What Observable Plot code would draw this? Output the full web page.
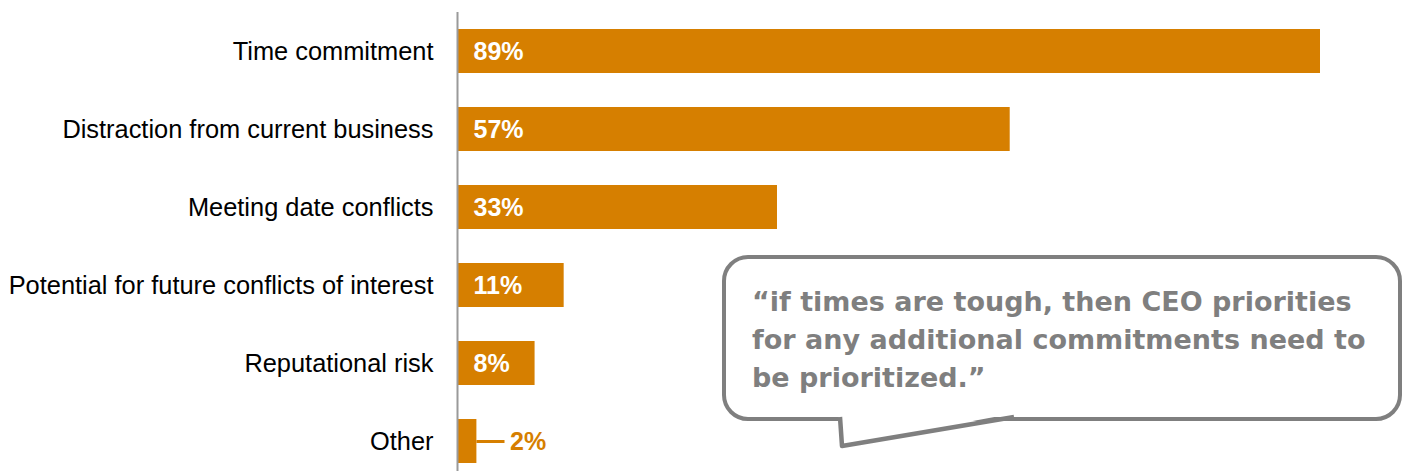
<!DOCTYPE html>
<html>
<head>
<meta charset="utf-8">
<script src="https://cdn.jsdelivr.net/npm/d3@7"></script>
<script src="https://cdn.jsdelivr.net/npm/@observablehq/plot@0.6"></script>
<style>
  html, body { margin: 0; padding: 0; background: #fff; }
  #wrap { position: relative; width: 1405px; height: 471px; overflow: hidden; }
  #chart { position: absolute; left: 0; top: 0; }
  #callout {
    position: absolute; left: 722px; top: 255px; width: 680px; height: 166px;
    box-sizing: border-box; border: 4.5px solid #7f7f7f; border-radius: 26px; background: #fff;
    padding: 24px 0 0 26px; white-space: nowrap;
    font-family: "DejaVu Sans", sans-serif; font-weight: 700; font-size: 27px; line-height: 38px;
    color: #7f7f7f;
  }
  #tail { position: absolute; left: 0; top: 0; }
</style>
</head>
<body>
<div id="wrap">
  <div id="chart"></div>
  <div id="callout">“if times are tough, then CEO priorities<br>for any additional commitments need to<br>be prioritized.”</div>
  <svg id="tail" width="1405" height="471">
    <polygon points="838,413 1016,413 843,445" fill="#fff"></polygon>
    <polyline points="840,417 842,446 1014,417" fill="none" stroke="#7f7f7f" stroke-width="4.5" stroke-linejoin="round"></polyline>
  </svg>
</div>
<script>
const categories = [
  "Time commitment",
  "Distraction from current business",
  "Meeting date conflicts",
  "Potential for future conflicts of interest",
  "Reputational risk",
  "Other"
];
const values = [89, 57, 33, 11, 8, 2];
const valueLabels = ["89%", "57%", "33%", "11%", "8%", "2%"];

const barColor = "#d67f00";
const data = categories.map((c, i) => ({category: c, value: values[i], label: valueLabels[i]}));
const inside = data.filter(d => d.value >= 5);
const outside = data.filter(d => d.value < 5);
const leader = 2.9;

const chart = Plot.plot({
  width: 1405,
  height: 471,
  marginLeft: 457,
  marginRight: 85,
  marginTop: 12,
  marginBottom: 0,
  style: {fontFamily: "'Liberation Sans', Arial, sans-serif", background: "transparent"},
  x: {domain: [0, 89], axis: null},
  y: {domain: categories, paddingInner: 0.436, paddingOuter: 0.16, align: 0.68, label: null},
  marks: [
    Plot.barX(data, {x: "value", y: "category", fill: barColor}),
    Plot.ruleX([0], {stroke: "#9a9a9a", strokeWidth: 2}),
    Plot.axisY({tickSize: 0, tickPadding: 24, fontSize: 25.4, color: "#000", label: null}),
    Plot.text(inside, {x: 0, y: "category", text: "label", textAnchor: "start", dx: 16, fill: "#fff", fontWeight: "bold", fontSize: 25}),
    Plot.ruleY(outside, {y: "category", x1: "value", x2: d => d.value + leader, stroke: barColor, strokeWidth: 3}),
    Plot.text(outside, {x: d => d.value + leader, y: "category", text: "label", textAnchor: "start", dx: 5, fill: barColor, fontWeight: "bold", fontSize: 25})
  ]
});
document.getElementById("chart").appendChild(chart);
</script>
</body>
</html>
